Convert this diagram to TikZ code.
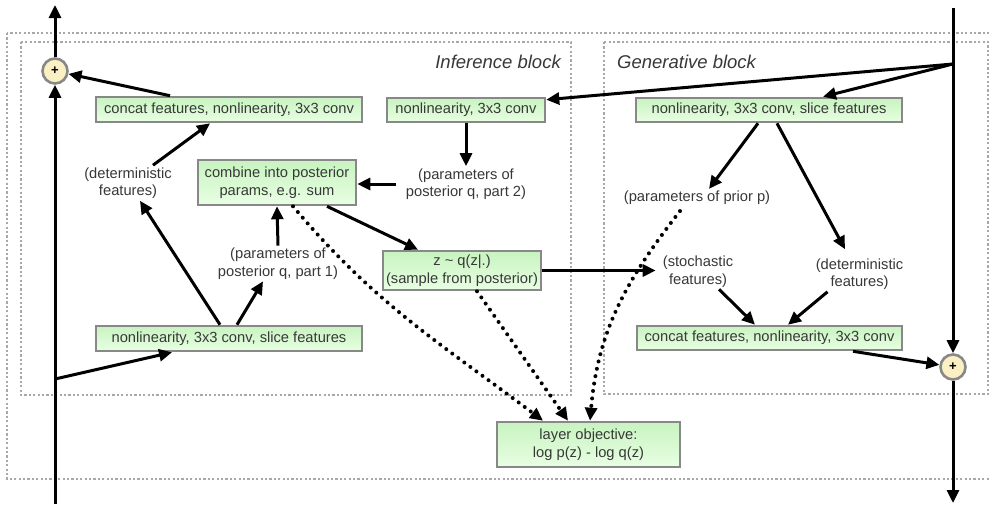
\documentclass[tikz,border=0pt]{standalone}
\usepackage{fontspec}
\setmainfont{Liberation Sans}
\usetikzlibrary{arrows.meta,calc}
\definecolor{txt}{HTML}{383838}
\definecolor{boxedge}{HTML}{888888}
\definecolor{boxtop}{HTML}{C8F3C0}
\definecolor{boxbot}{HTML}{E8FFE3}
\definecolor{plusfill}{HTML}{FBEFC4}
\definecolor{frame}{HTML}{A8A8A8}
\begin{document}
\begin{tikzpicture}[x=1pt,y=-1pt,
  every node/.style={text=txt,font=\fontsize{14.7}{17.5}\selectfont},
  gbox/.style={draw=boxedge,line width=2.6pt,top color=boxtop,bottom color=boxbot,inner sep=0pt,align=center},
  lbl/.style={align=center,inner sep=2pt},
  ttl/.style={font=\fontsize{18.5}{20}\selectfont\itshape,inner sep=0pt},
  plus/.style={circle,draw=boxedge,line width=2.6pt,fill=plusfill,minimum size=25pt,inner sep=0pt,text=black,font=\bfseries\fontsize{13}{13}\selectfont},
  arr/.style={-{Triangle[length=13pt,width=12pt]},line width=3pt,black},
  dots/.style={arr,dash pattern=on 0pt off 7.5pt,line cap=round,line width=4pt},
  frm/.style={draw=frame,line width=1.2pt,dash pattern=on 2.2pt off 2.2pt}]
\fill[white] (0,0) rectangle (990,504);
\useasboundingbox (0,0) rectangle (990,504);
% frames
\draw[frm] (7,33) rectangle (996,479);
\draw[frm] (21,42) rectangle (571,395);
\draw[frm] (604,42) rectangle (988,394);
\node[ttl,anchor=east] (tinf) at (561,62) {Inference block};
\node[ttl,anchor=west] (tgen) at (617,62) {Generative block};
% boxes
\node[gbox,minimum width=266pt,minimum height=25pt] (catL) at (229,109.5) {concat features, nonlinearity, 3x3 conv};
\node[gbox,minimum width=266pt,minimum height=25pt] (nlL) at (229,338.5) {nonlinearity, 3x3 conv, slice features};
\node[gbox,minimum width=158pt,minimum height=45pt] (comb) at (277,182.5) {combine into posterior\\params, e.g. sum};
\node[gbox,minimum width=158pt,minimum height=24pt] (nlI) at (466,110) {nonlinearity, 3x3 conv};
\node[gbox,minimum width=158pt,minimum height=39pt] (zbox) at (462,270.5) {z \textasciitilde{} q(z\textbar.)\\(sample from posterior)};
\node[gbox,minimum width=266pt,minimum height=24pt] (nlG) at (769,110) {nonlinearity, 3x3 conv, slice features};
\node[gbox,minimum width=265pt,minimum height=24pt] (catG) at (769.5,338) {concat features, nonlinearity, 3x3 conv};
\node[gbox,minimum width=183pt,minimum height=45pt] (obj) at (588.5,444.5) {layer objective:\\log p(z) - log q(z)};
% labels
\node[lbl] (detL) at (128,183) {(deterministic\\features)};
\node[lbl] (p2) at (466,184) {(parameters of\\posterior q, part 2)};
\node[lbl] (p1) at (278,263.5) {(parameters of\\posterior q, part 1)};
\node[lbl] (prior) at (697,198) {(parameters of prior p)};
\node[lbl] (sto) at (698,271.5) {(stochastic\\features)};
\node[lbl] (detG) at (859.5,274) {(deterministic\\features)};
% plus nodes
\node[plus] (plusL) at (55,71) {+};
\node[plus] (plusR) at (953,367) {+};
\coordinate (topL) at (55,5);
\coordinate (jL) at (55,379);
\coordinate (botL) at (55,504);
\coordinate (topR) at (953,8);
\coordinate (jR) at (953,64);
\coordinate (botR) at (953,503);
% left column
\draw[arr] (botL) -- (plusL);
\draw[arr] (plusL) -- (topL);
\draw[arr] (jL) -- ([xshift=-57pt]nlL.south);
\draw[arr] ([xshift=-9pt]nlL.north) -- ([xshift=12pt]detL.south);
\draw[arr] ([xshift=8pt]nlL.north) -- ([xshift=-15pt]p1.south);
\draw[arr] ([xshift=25pt]detL.north) -- ([xshift=-19pt]catL.south);
\draw[arr] ([xshift=-59pt]catL.north) -- (plusL);
\draw[arr] (p1.north) -- (comb.south);
\draw[arr] ([xshift=-8pt]p2.west) -- (comb.east |- p2.west);
\draw[arr] (nlI.south) -- (p2.north);
\draw[arr] ([xshift=50pt]comb.south) -- ([xshift=-44pt]zbox.north);
\draw[arr] (zbox.east) -- ($(zbox.east -| sto.west)+(-5,0)$);
% right column
\draw[arr] (topR) -- (plusR);
\draw[arr] (plusR) -- (botR);
\draw[arr] (jR) -- ([yshift=-3pt]nlI.north east);
\draw[arr] (jR) -- ([xshift=54pt]nlG.north);
\draw[arr] ([xshift=-11pt]nlG.south) -- ([xshift=12pt]prior.north);
\draw[arr] ([xshift=8pt]nlG.south) -- ([xshift=-14.5pt,yshift=7pt]detG.north);
\draw[arr] ([xshift=21pt]sto.south) -- ([xshift=-14.5pt]catG.north);
\draw[arr] ([xshift=-32pt]detG.south) -- ([xshift=18.5pt]catG.north);
\draw[arr] ([xshift=83.5pt]catG.south) -- (plusR);
% dotted connectors to objective
\draw[dots] ([xshift=16pt]comb.south) to[out=-50,in=143] ([xshift=-45.5pt]obj.north);
\draw[dots] ([xshift=15pt]zbox.south) -- ([xshift=-20.5pt]obj.north);
\draw[dots] ([xshift=-17pt,yshift=-4pt]prior.south) to[out=-128,in=85] ([xshift=1.5pt]obj.north);
\end{tikzpicture}
\end{document}
